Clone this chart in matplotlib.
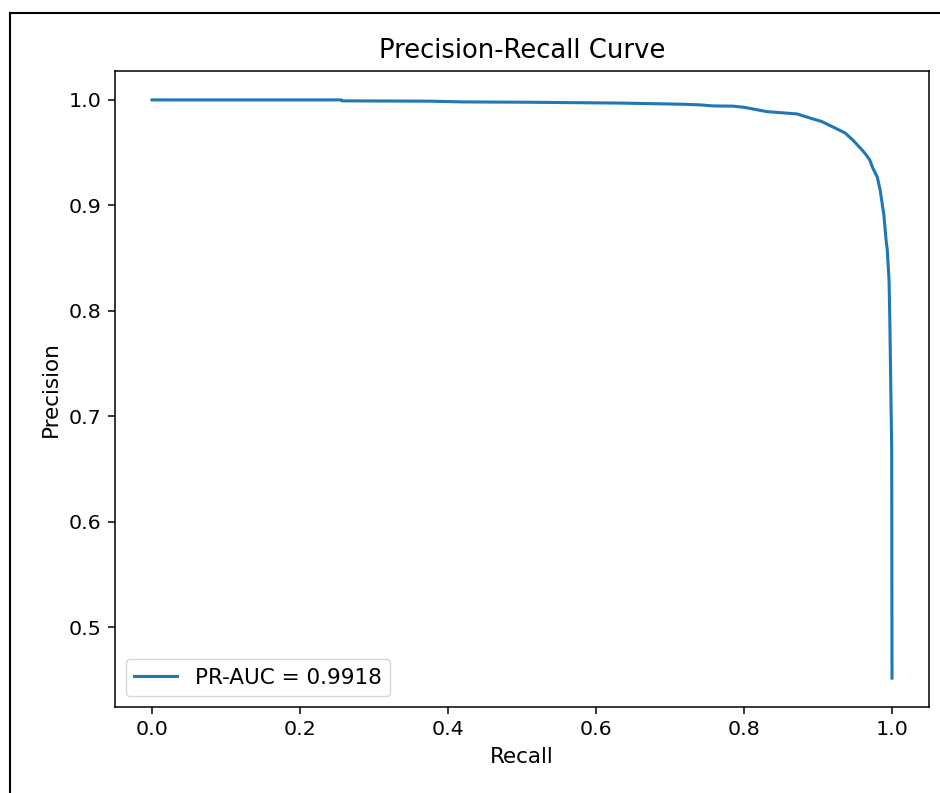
import matplotlib
matplotlib.use("Agg")
import matplotlib.pyplot as plt
from matplotlib.lines import Line2D

recall = [0.0, 0.256, 0.257, 0.376, 0.42, 0.507, 0.632, 0.7176, 0.7405, 0.758, 0.785,
          0.80, 0.831, 0.8716, 0.893, 0.905, 0.920, 0.9365, 0.947, 0.9595, 0.965,
          0.970, 0.974, 0.980, 0.984, 0.986, 0.989, 0.992, 0.9936,
          0.996, 0.997, 0.9996, 1.0]
precision = [1.0, 1.0, 0.9991, 0.9988, 0.9981, 0.9978, 0.997, 0.9959, 0.9953, 0.9943, 0.9941,
             0.9930, 0.9889, 0.9867, 0.982, 0.9795, 0.9744, 0.9687, 0.962, 0.9526, 0.948,
             0.943, 0.9355, 0.927, 0.9146, 0.905, 0.891, 0.867, 0.858,
             0.829, 0.794, 0.668, 0.4519]
label = "PR-AUC = 0.9918"

s = 1.38
fs = 15.5
plt.rcParams.update({
    "font.size": fs,
    "axes.linewidth": 0.8 * s,
    "xtick.major.size": 3.5 * s,
    "ytick.major.size": 3.5 * s,
    "xtick.major.width": 0.8 * s,
    "ytick.major.width": 0.8 * s,
    "xtick.major.pad": 3.5 * s,
    "ytick.major.pad": 3.5 * s,
    "lines.linewidth": 1.6 * s,
})

fig = plt.figure(figsize=(9.4, 7.93), dpi=100)
ax = fig.add_axes([115 / 940, 1 - 707 / 793, (929 - 115) / 940, (707 - 71) / 793])
ax.plot(recall, precision, label=label)
ax.set_title("Precision-Recall Curve", pad=6 * s + 1, fontsize=fs * 1.2)
ax.set_xlabel("Recall", labelpad=4 * s)
ax.set_ylabel("Precision", labelpad=4 * s)
ax.tick_params(labelsize=fs * 0.95)
ax.legend(loc="lower left")

# screenshot border
fx = 10 / 940
fy = 1 - 13 / 793
fig.add_artist(Line2D([fx, 1.0], [fy, fy], transform=fig.transFigure, color="black", lw=1.5))
fig.add_artist(Line2D([fx, fx], [0.0, fy], transform=fig.transFigure, color="black", lw=1.5))

fig.savefig("out.png", dpi=100)
